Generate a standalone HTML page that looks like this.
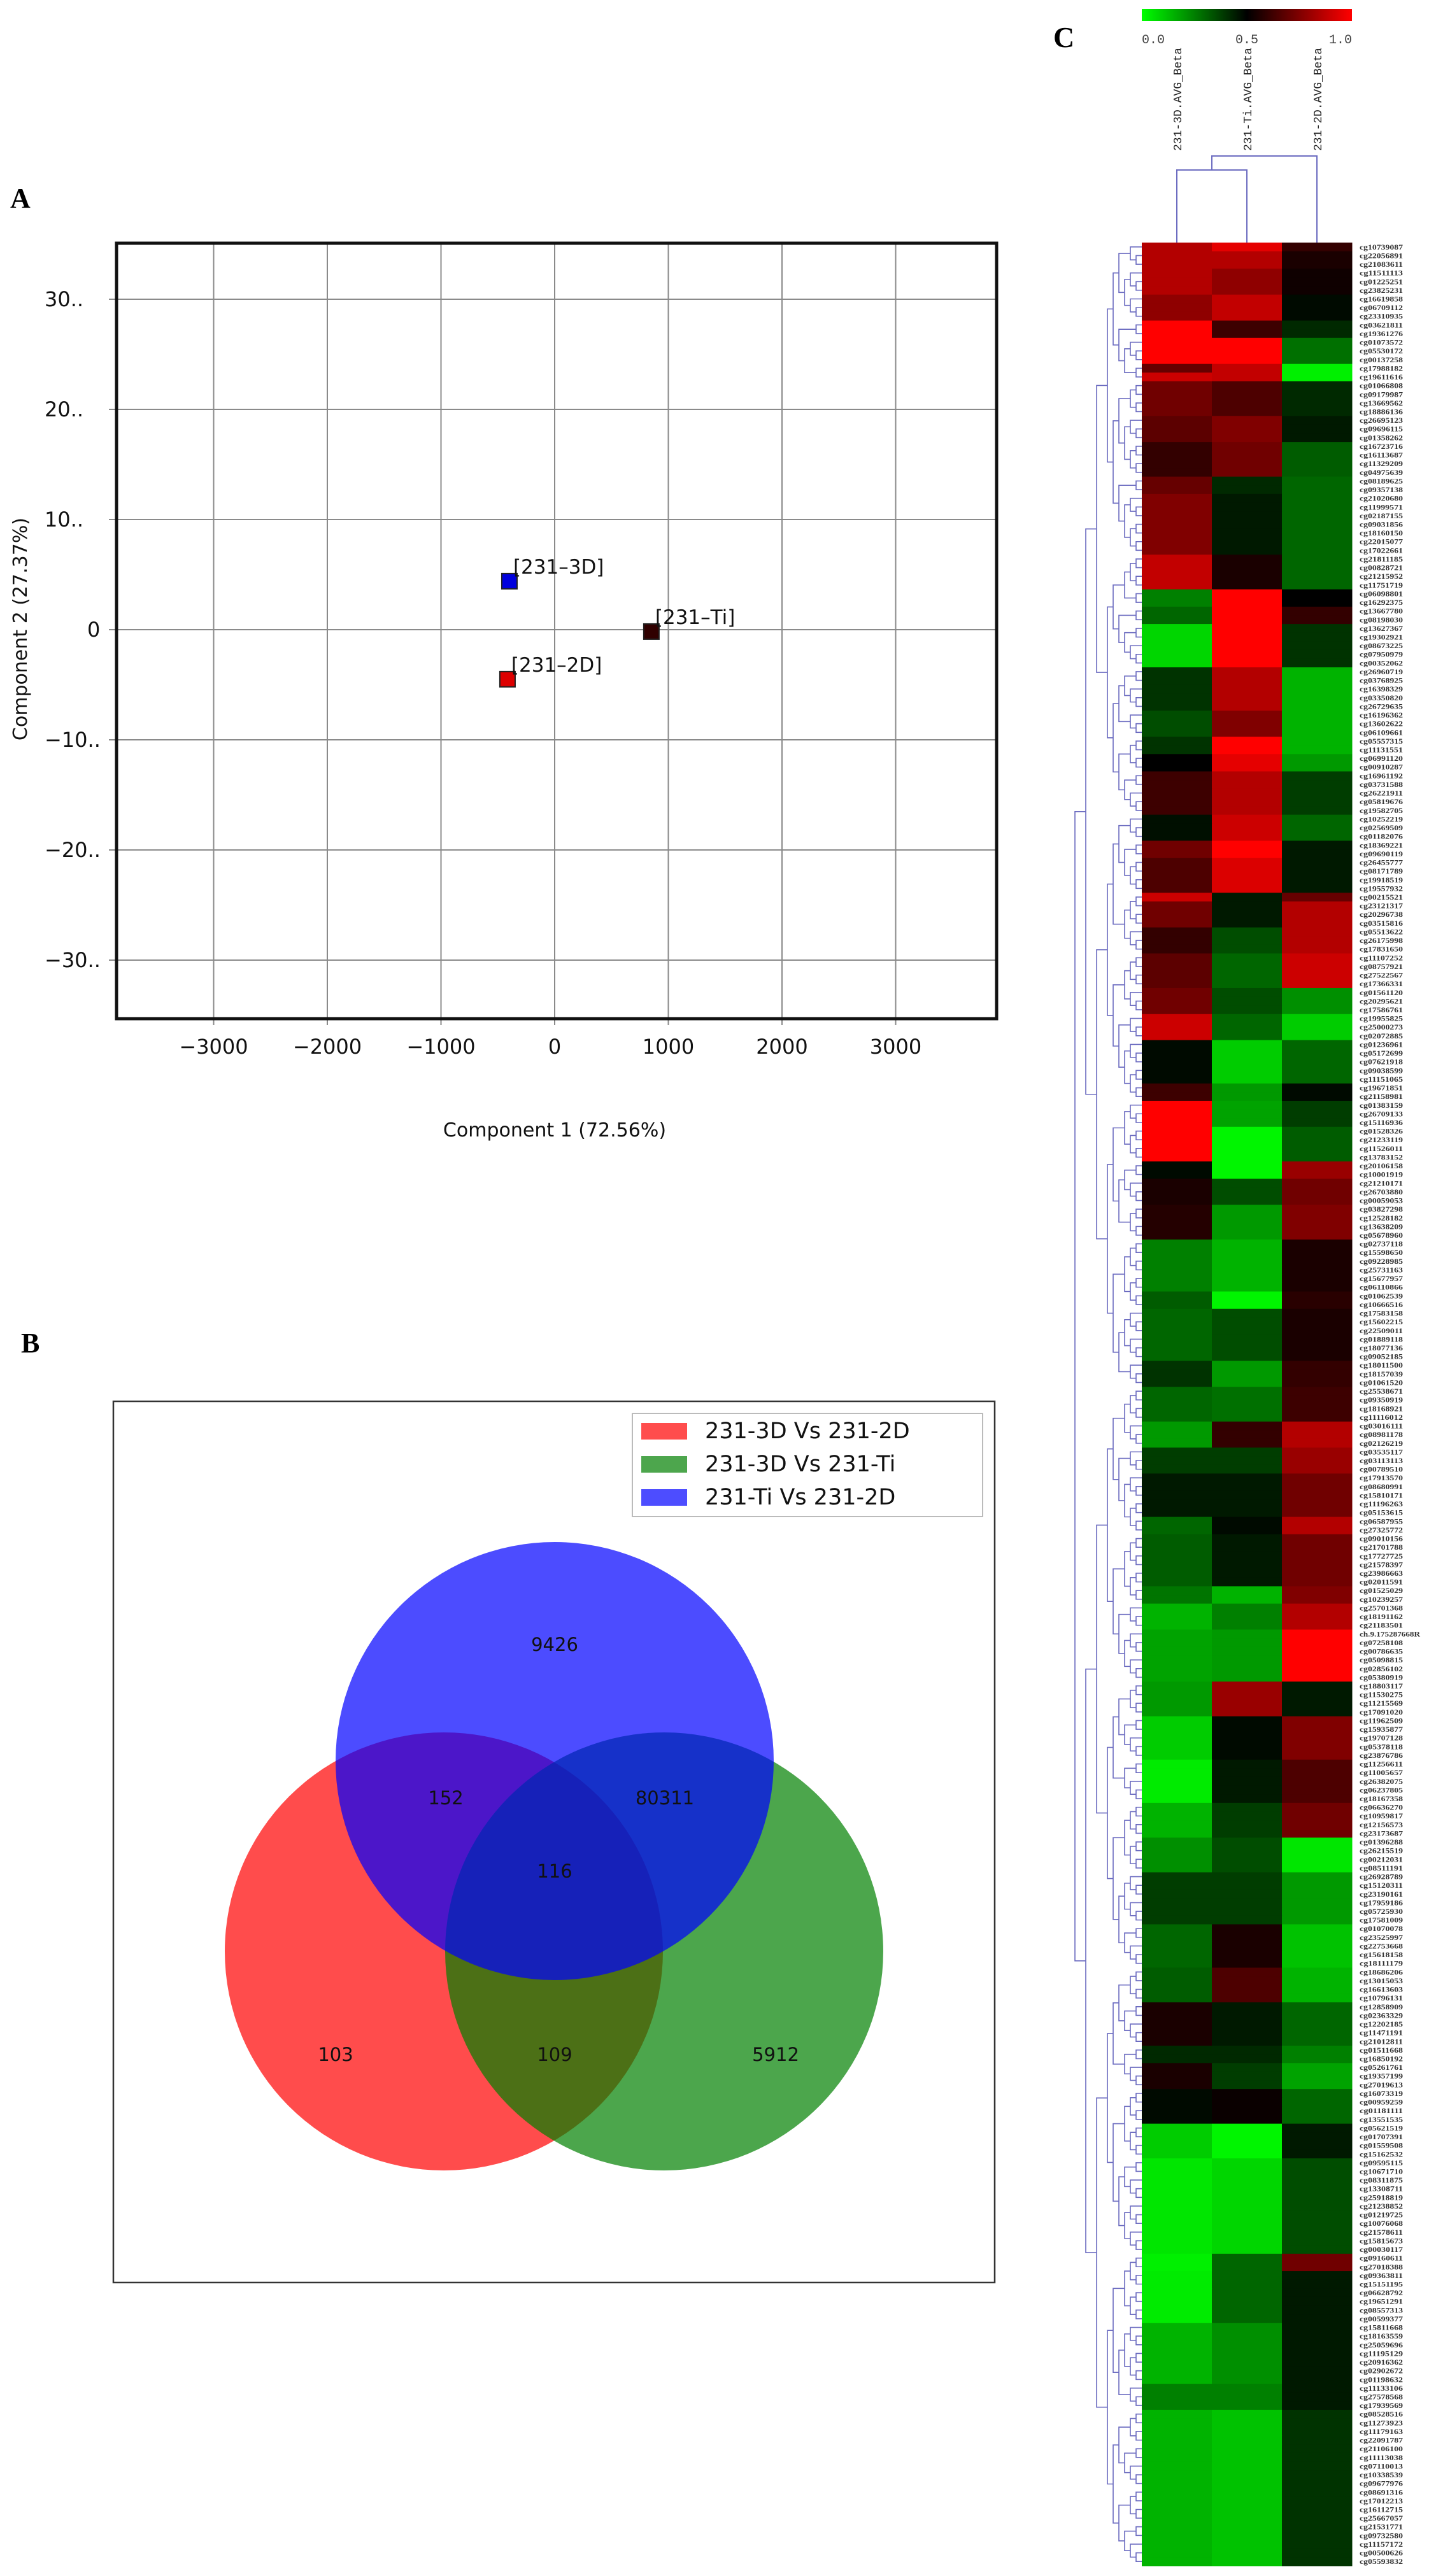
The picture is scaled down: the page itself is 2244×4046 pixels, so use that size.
<!DOCTYPE html>
<html><head><meta charset="utf-8">
<style>
html,body{margin:0;padding:0;background:#fff;}
svg{display:block;}
.sans{font-family:"DejaVu Sans","Liberation Sans",sans-serif;}
.serif{font-family:"Liberation Serif",serif;}
.mono{font-family:"Liberation Mono",monospace;}
</style></head>
<body>
<svg id="fig" width="2244" height="4046" viewBox="0 0 2244 4046" xmlns="http://www.w3.org/2000/svg">
  <g id="panelA"></g>
  <g id="panelB"></g>
  <g id="panelC"></g>
</svg>
<script>
// ---------- Panel A data ----------
const pcaSamples = ["[231\u20133D]", "[231\u20132D]", "[231\u2013Ti]"];
const pcaX = [-398, -415, 851];
const pcaY = [4.4, -4.5, -0.17];
const pcaColors = ["#0000dd", "#dd0000", "#300000"];
const xTicks = [-3000, -2000, -1000, 0, 1000, 2000, 3000];
const yTicks = [30, 20, 10, 0, -10, -20, -30];
const yTickLabels = ["30..", "20..", "10..", "0", "-10..", "-20..", "-30.."];

// ---------- Panel B data ----------
const vennSets = ["231-3D Vs 231-2D", "231-3D Vs 231-Ti", "231-Ti Vs 231-2D"];
const vennRegionLabels = ["9426", "152", "80311", "116", "103", "109", "5912"];

// ---------- Panel C data (run-length blocks: last row index (exclusive) and beta values) ----------
const blockEnd = [1,3,6,9,11,14,15,16,20,23,27,29,36,40,42,44,49,54,57,59,61,66,69,71,75,76,79,82,86,89,
  92,97,99,102,106,108,111,115,121,123,129,132,136,139,142,147,149,155,157,160,166,170,175,180,184,188,194,199,203,208,210,213,217,221,232,234,240,247,250,268];
const beta3D = [.85,.85,.85,.78,1,1,.7,.9,.72,.68,.6,.7,.75,.88,.25,.3,.08,.4,.35,.4,.5,.62,.47,.72,.65,.9,.72,.6,.68,.72,
  .9,.48,.62,1,1,.48,.55,.57,.25,.32,.3,.4,.3,.2,.38,.45,.3,.32,.27,.15,.18,.2,.1,.04,.15,.22,.38,.3,.32,.55,.42,.55,.48,.1,.05,.03,.04,.15,.25,.15];
const betaTi = [.95,.85,.78,.88,.62,1,.88,.88,.65,.75,.72,.42,.45,.55,1,1,1,.85,.75,1,.95,.85,.9,1,.93,.45,.45,.35,.3,.35,
  .3,.1,.2,.18,.02,.02,.35,.2,.15,.02,.35,.2,.28,.6,.38,.45,.48,.45,.15,.25,.2,.8,.48,.45,.38,.35,.38,.55,.65,.45,.42,.38,.52,.02,.08,.3,.3,.22,.25,.12];
const beta2D = [.6,.55,.53,.48,.42,.28,.03,.03,.42,.45,.32,.3,.3,.3,.5,.6,.4,.15,.15,.15,.2,.38,.3,.45,.45,.7,.85,.85,.9,.22,
  .1,.3,.48,.38,.32,.8,.72,.75,.55,.58,.55,.6,.62,.85,.8,.72,.85,.72,.75,.85,1,.45,.75,.65,.72,.05,.2,.12,.15,.3,.25,.18,.3,.45,.35,.72,.45,.45,.45,.4];
const columnLabels = ["231-3D.AVG_Beta", "231-Ti.AVG_Beta", "231-2D.AVG_Beta"];
const colorbarTicks = ["0.0", "0.5", "1.0"];
const rowLabels = ["cg10739087","cg22056891","cg21083611","cg11511113","cg01225251","cg23825231","cg16619858","cg06709112","cg23310935","cg03621811","cg19361276","cg01073572","cg05530172","cg00137258","cg17988182","cg19611616","cg01066808","cg09179987","cg13669562","cg18886136","cg26695123","cg09696115","cg01358262","cg16723716",
"cg16113687","cg11329209","cg04975639","cg08189625","cg09357138","cg21020680","cg11999571","cg02187155","cg09031856","cg18160150","cg22015077","cg17022661","cg21811185","cg00828721","cg21215952","cg11751719","cg06098801","cg16292375","cg13667780","cg08198030","cg13627367","cg19302921","cg08673225","cg07950979","cg00352062","cg26960719","cg03768925","cg16398329","cg03350820","cg26729635","cg16196362","cg13602622","cg06109661","cg05557315","cg11131551","cg06991120","cg00910287","cg16961192","cg03731588","cg26221911","cg05819676","cg19582705","cg10252219","cg02569509","cg01182076","cg18369221","cg09690119","cg26455777","cg08171789","cg19918519","cg19557932","cg00215521","cg23121317","cg20296738","cg03515816","cg05513622","cg26175998","cg17831650","cg11107252","cg08757921","cg27522567","cg17366331","cg01561120","cg20295621",
"cg17586761","cg19955825","cg25000273","cg02072885","cg01236961","cg05172699","cg07621918","cg09038599","cg11151065","cg19671851","cg21158981","cg01383159","cg26709133","cg15116936","cg01528326","cg21233119","cg11526011","cg13783152","cg20106158","cg10001919","cg21210171","cg26703880","cg00059053","cg03827298","cg12528182","cg13638209","cg05678960","cg02737118","cg15598650","cg09228985","cg25731163","cg15677957","cg06110866","cg01062539","cg10666516","cg17583158","cg15602215","cg22509011","cg01889118","cg18077136","cg09052185","cg18011500","cg18157039","cg01061520","cg25538671","cg09350919","cg18168921","cg11116012","cg03016111","cg08981178","cg02126219","cg03535117","cg03113113","cg00789510","cg17913570","cg08680991","cg15810171","cg11196263","cg05153615","cg06587955",
"cg27325772","cg09010156","cg21701788","cg17727725","cg21578397","cg23986663","cg02011591","cg01525029","cg10239257","cg25701368","cg18191162","cg21183501","ch.9.175287668R","cg07258108","cg00786635","cg05098815","cg02856102","cg05380919","cg18803117","cg11530275","cg11215569","cg17091020","cg11962509","cg15935877","cg19707128","cg05378118","cg23876786","cg11256611","cg11005657","cg26382075","cg06237805","cg18167358","cg06636270","cg10959817","cg12156573","cg23173687","cg01396288","cg26215519","cg00212031","cg08511191","cg26928789","cg15120311","cg23190161","cg17959186","cg05725930","cg17581009","cg01070078","cg23525997","cg22753668","cg15618158","cg18111179","cg18686206","cg13015053","cg16613603","cg10796131","cg12858909","cg02363329","cg12202185","cg11471191","cg21012811",
"cg01511668","cg16850192","cg05261761","cg19357199","cg27019613","cg16073319","cg00959259","cg01181111","cg13551535","cg05621519","cg01707391","cg01559508","cg15162532","cg09595115","cg10671710","cg08311875","cg13308711","cg25918819","cg21238852","cg01219725","cg10076068","cg21578611","cg15815673","cg00030117","cg09160611","cg27018388","cg09363811","cg15151195","cg06628792","cg19651291","cg08557313","cg00599377","cg15811668","cg18163559","cg25059696","cg11195129","cg20916362","cg02902672","cg01198632","cg11133106","cg27578568","cg17939569","cg08528516","cg11273923","cg11179163","cg22091787","cg21106100","cg11113038","cg07110013","cg10338539","cg09677976","cg08691316","cg17012213","cg16112715","cg25667057","cg21531771","cg09732580","cg11157172","cg00500626","cg05593832"];

const NS = "http://www.w3.org/2000/svg";
function mk(parent, tag, attrs, text) {
  const e = document.createElementNS(NS, tag);
  for (const k in attrs) e.setAttribute(k, attrs[k]);
  if (text !== undefined) e.textContent = text;
  parent.appendChild(e);
  return e;
}

// ================= Panel A =================
(function(){
  const g = document.getElementById('panelA');
  const L = 183, R = 1565, T = 382, B = 1600;
  const sx = v => 871 + v * 0.1785;
  const sy = v => 989 - v * 17.3;
  let t = mk(g, 'text', {x: 16, y: 326, class: 'serif', 'font-size': 44, 'font-weight': 'bold'}, 'A');
  
  
  xTicks.forEach(v => {
    const l = mk(g, 'line', {x1: sx(v), x2: sx(v), y1: T, y2: B + 10, stroke: '#8a8a8a', 'stroke-width': 2});
    
    
    const tx = mk(g, 'text', {x: sx(v), y: 1655, class: 'sans', 'font-size': 32, 'text-anchor': 'middle', fill: '#111'}, String(v).replace('-', '\u2212'));
    
    
  });
  yTicks.forEach((v, i) => {
    const l = mk(g, 'line', {x1: L - 12, x2: R, y1: sy(v), y2: sy(v), stroke: '#8a8a8a', 'stroke-width': 2});
    
    
    const tx = mk(g, 'text', {x: v === 0 ? 137 : 70, y: sy(v) + 11, class: 'sans', 'font-size': 32, fill: '#111'}, yTickLabels[i].replace('-', '\u2212'));
    
    
  });
  const fr = mk(g, 'rect', {x: L, y: T, width: R - L, height: B - T, fill: 'none', stroke: '#111', 'stroke-width': 5});
  
  
  pcaX.forEach((v, i) => {
    const cx = sx(v), cy = sy(pcaY[i]);
    const p = mk(g, 'rect', {x: cx - 12, y: cy - 12, width: 24, height: 24, fill: pcaColors[i], stroke: '#222', 'stroke-width': 2});
    
    
    const tl = mk(g, 'text', {x: cx + 6, y: cy - 12, class: 'sans', 'font-size': 31, fill: '#111'}, pcaSamples[i]);
    
    
  });
  const xt = mk(g, 'text', {x: 871, y: 1785, class: 'sans', 'font-size': 30, 'text-anchor': 'middle', fill: '#111'}, 'Component 1 (72.56%)');
  
  
  const yt = mk(g, 'text', {x: 0, y: 0, class: 'sans', 'font-size': 30, 'text-anchor': 'middle', fill: '#111', transform: 'translate(42,988) rotate(-90)'}, 'Component 2 (27.37%)');
  
  
})();

// ================= Panel B =================
(function(){
  const g = document.getElementById('panelB');
  let t = mk(g, 'text', {x: 33, y: 2124, class: 'serif', 'font-size': 44, 'font-weight': 'bold'}, 'B');
  
  
  const box = mk(g, 'rect', {x: 178, y: 2201, width: 1384, height: 1384, fill: '#fff', stroke: '#333', 'stroke-width': 2.5});
  
  
  const circles = [[697, 3065, '#ff0000'], [1043, 3065, '#008000'], [871, 2766, '#0000ff']];
  const names = ['circle-3d-vs-2d', 'circle-3d-vs-ti', 'circle-ti-vs-2d'];
  circles.forEach((c, i) => {
    const e = mk(g, 'circle', {cx: c[0], cy: c[1], r: 344, fill: c[2], 'fill-opacity': 0.7});
    
    
  });
  const pos = [[871, 2593], [700, 2834], [1044, 2834], [871, 2949], [527, 3237], [871, 3237], [1218, 3237]];
  vennRegionLabels.forEach((s, i) => {
    const e = mk(g, 'text', {x: pos[i][0], y: pos[i][1], class: 'sans', 'font-size': 29, 'text-anchor': 'middle', fill: '#111'}, s);
    
    
  });
  const lg = mk(g, 'rect', {x: 993, y: 2220, width: 550, height: 162, fill: '#fff', stroke: '#bbb', 'stroke-width': 2});
  
  
  const sw = ['#ff4d4d', '#4da64d', '#4d4dff'];
  vennSets.forEach((s, i) => {
    const y = 2247 + i * 52;
    const r = mk(g, 'rect', {x: 1007, y: y - 12, width: 72, height: 26, fill: sw[i]});
    
    
    const e = mk(g, 'text', {x: 1107, y: y + 12, class: 'sans', 'font-size': 35, fill: '#111'}, s);
    
    
  });
})();

// ================= Panel C =================
(function(){
  const g = document.getElementById('panelC');
  const X0 = 1793, CW = 110, T = 381, BOT = 4030;
  const N = blockEnd[blockEnd.length - 1];
  const RH = (BOT - T) / N;
  function col(v) {
    if (v < 0.5) return 'rgb(0,' + Math.round(255 * (1 - 2 * v)) + ',0)';
    return 'rgb(' + Math.round(255 * (2 * v - 1)) + ',0,0)';
  }
  let t = mk(g, 'text', {x: 1654, y: 74, class: 'serif', 'font-size': 46, 'font-weight': 'bold'}, 'C');
  
  
  // colorbar
  const defs = mk(g, 'defs', {});
  const gr = mk(defs, 'linearGradient', {id: 'cbar', x1: 0, x2: 1, y1: 0, y2: 0});
  mk(gr, 'stop', {offset: '0', 'stop-color': '#00ff00'});
  mk(gr, 'stop', {offset: '0.5', 'stop-color': '#000'});
  mk(gr, 'stop', {offset: '1', 'stop-color': '#ff0000'});
  const cb = mk(g, 'rect', {x: X0, y: 14, width: 3 * CW, height: 19, fill: 'url(#cbar)'});
  
  
  colorbarTicks.forEach((s, i) => {
    const e = mk(g, 'text', {x: X0 + i * 1.5 * CW, y: 68, class: 'mono', 'font-size': 20, fill: '#444', 'text-anchor': ['start', 'middle', 'end'][i]}, s);
    
    
  });
  // column labels
  columnLabels.forEach((s, i) => {
    const cx = X0 + CW * (i + 0.5);
    const e = mk(g, 'text', {x: 0, y: 0, class: 'mono', 'font-size': 18, fill: '#222', transform: 'translate(' + (cx + 7) + ',237) rotate(-90)'}, s);
    
    
  });
  // column dendrogram
  const dc = '#6b6bc0';
  const cxs = [0, 1, 2].map(i => X0 + CW * (i + 0.5));
  const cd = mk(g, 'path', {d: 'M' + cxs[0] + ' ' + T + 'V267H' + cxs[1] + 'V' + T + 'M' + ((cxs[0] + cxs[1]) / 2) + ' 267V245H' + cxs[2] + 'V' + T, fill: 'none', stroke: dc, 'stroke-width': 2});
  
  
  // cells
  const series = [beta3D, betaTi, beta2D];
  let start = 0;
  blockEnd.forEach((end, b) => {
    for (let r = start; r < end; r++) {
      series.forEach((s, c) => {
        const e = mk(g, 'rect', {x: X0 + c * CW, y: T + r * RH, width: CW + 0.5, height: RH + 0.5, fill: col(s[b])});
        
        
      });
    }
    start = end;
  });
  // row labels
  for (let r = 0; r < N; r++) {
    const e = mk(g, 'text', {x: 2135, y: T + (r + 0.5) * RH + 4, class: 'serif', 'font-size': 12, 'font-weight': 'bold', fill: '#333', textLength: rowLabels[r] && rowLabels[r].length > 10 ? 95 : 68, lengthAdjust: 'spacingAndGlyphs'}, rowLabels[r] || '');
    
    
  }
  // row dendrogram (hierarchical split following blocks)
  let d = '';
  function build(lo, hi) {
    if (hi - lo === 1) return {y: T + (lo + 0.5) * RH, x: X0};
    let mid = Math.floor((lo + hi) / 2);
    let best = mid, bd = 1e9;
    blockEnd.forEach(e => { if (e > lo && e < hi && Math.abs(e - mid) < bd && Math.abs(e - mid) < (hi - lo) / 4) { bd = Math.abs(e - mid); best = e; } });
    const a = build(lo, best), b = build(best, hi);
    const x = Math.min(a.x, b.x) - (hi - lo > 40 ? 17 : 9);
    d += 'M' + a.x + ' ' + a.y + 'H' + x + 'V' + b.y + 'H' + b.x;
    return {x: x, y: (a.y + b.y) / 2};
  }
  const root = build(0, N);
  const rd = mk(g, 'path', {d: d, fill: 'none', stroke: dc, 'stroke-width': 1.6});
  
  
})();
</script>
</body></html>
